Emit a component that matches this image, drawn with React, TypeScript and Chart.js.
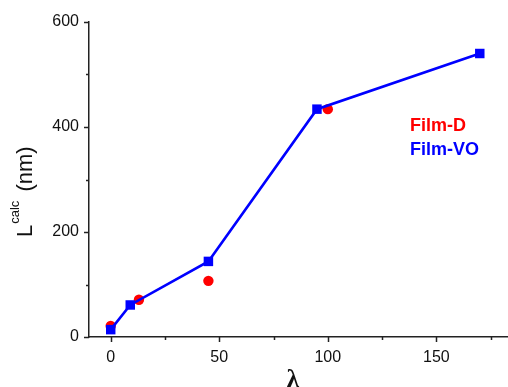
import React, { useEffect, useRef } from "react";
import { Chart, registerables } from "chart.js";

Chart.register(...registerables);

const lambdaVO = [0, 9, 45, 95, 170];
const valuesVO = [14, 61, 144, 434, 540];
const lambdaD = [0, 13, 45, 100];
const valuesD = [21, 71, 107, 434];
const seriesNames = ["Film-D", "Film-VO"];
const seriesColors = ["#ff0000", "#0000ff"];
const xMajorTicks = [0, 50, 100, 150];
const xMinorTicks = [25, 75, 125, 175];
const yMajorTicks = [0, 200, 400, 600];
const yMinorTicks = [100, 300, 500];

const FONT = '"Liberation Sans", Arial, sans-serif';
const AXIS_COLOR = "#222222";
const TEXT_COLOR = "#111111";

const decorPlugin = {
  id: "decor",
  afterDraw(chart: any) {
    const { ctx, chartArea } = chart;
    const xs = chart.scales.x;
    const ys = chart.scales.y;
    ctx.save();
    ctx.strokeStyle = AXIS_COLOR;
    ctx.lineWidth = 1.5;
    const drawX = (vals: number[], len: number) => {
      vals.forEach((v) => {
        const px = Math.round(xs.getPixelForValue(v)) + 0.5;
        ctx.beginPath();
        ctx.moveTo(px, chartArea.bottom);
        ctx.lineTo(px, chartArea.bottom + len);
        ctx.stroke();
      });
    };
    const drawY = (vals: number[], len: number) => {
      vals.forEach((v) => {
        const py = Math.round(ys.getPixelForValue(v)) + 0.5;
        ctx.beginPath();
        ctx.moveTo(chartArea.left, py);
        ctx.lineTo(chartArea.left - len, py);
        ctx.stroke();
      });
    };
    drawX(xMajorTicks, 5);
    drawX(xMinorTicks, 3);
    drawY(yMajorTicks, 5);
    drawY(yMinorTicks, 3);

    // Y axis title: L^calc (nm)
    ctx.fillStyle = TEXT_COLOR;
    ctx.save();
    ctx.translate(32, 237);
    ctx.rotate(-Math.PI / 2);
    ctx.textBaseline = "alphabetic";
    ctx.textAlign = "left";
    ctx.font = `22px ${FONT}`;
    ctx.fillText("L", 0, 0);
    const wL = ctx.measureText("L").width;
    ctx.font = `13px ${FONT}`;
    ctx.fillText("calc", wL + 1, -13);
    const wC = ctx.measureText("calc").width;
    ctx.font = `22px ${FONT}`;
    ctx.fillText(" (nm)", wL + wC + 4, 0);
    ctx.restore();

    // X axis title
    ctx.font = `bold 25px "Liberation Serif", serif`;
    ctx.textAlign = "center";
    ctx.textBaseline = "top";
    ctx.fillText("λ", 293, 368);

    // Legend (text only)
    ctx.font = `bold 18px ${FONT}`;
    ctx.textAlign = "left";
    ctx.textBaseline = "alphabetic";
    seriesNames.forEach((name, i) => {
      ctx.fillStyle = seriesColors[i];
      ctx.fillText(name, 410, 131 + i * 24);
    });
    ctx.restore();
  },
};

export default function App() {
  const ref = useRef<HTMLCanvasElement | null>(null);
  useEffect(() => {
    document.body.style.margin = "0";
    const canvas = ref.current!;
    const chart = new Chart(canvas, {
      type: "scatter",
      data: {
        datasets: [
          {
            label: seriesNames[1],
            data: lambdaVO.map((x, i) => ({ x, y: valuesVO[i] })),
            showLine: true,
            borderColor: seriesColors[1],
            backgroundColor: seriesColors[1],
            borderWidth: 2.6,
            pointStyle: "rect",
            pointRadius: 6.7,
            pointBorderWidth: 0,
            order: 0,
            clip: false,
          },
          {
            label: seriesNames[0],
            data: lambdaD.map((x, i) => ({ x, y: valuesD[i] })),
            showLine: false,
            borderColor: seriesColors[0],
            backgroundColor: seriesColors[0],
            pointStyle: "circle",
            pointRadius: 5.2,
            pointBorderWidth: 0,
            order: 1,
            clip: false,
          },
        ],
      },
      options: {
        animation: false,
        responsive: false,
        maintainAspectRatio: false,
        layout: { autoPadding: false, padding: { top: 22, right: 0, left: 0, bottom: 0 } },
        plugins: {
          legend: { display: false },
          tooltip: { enabled: false },
          title: { display: false },
        },
        scales: {
          x: {
            type: "linear",
            min: -10,
            max: 183,
            grid: { display: false },
            border: { display: true, color: AXIS_COLOR, width: 1.5 },
            afterBuildTicks: (s: any) => {
              s.ticks = xMajorTicks.map((v) => ({ value: v }));
            },
            ticks: {
              padding: 3,
              color: TEXT_COLOR,
              font: { family: FONT, size: 16 },
              maxRotation: 0,
              autoSkip: false,
            },
            afterFit: (s: any) => {
              s.height = 50;
            },
          },
          y: {
            type: "linear",
            min: 0,
            max: 600,
            grid: { display: false },
            border: { display: true, color: AXIS_COLOR, width: 1.5 },
            afterBuildTicks: (s: any) => {
              s.ticks = yMajorTicks.map((v) => ({ value: v }));
            },
            ticks: {
              padding: 2,
              color: TEXT_COLOR,
              font: { family: FONT, size: 16 },
              autoSkip: false,
            },
            afterFit: (s: any) => {
              s.width = 89;
            },
          },
        },
      },
      plugins: [decorPlugin],
    } as any);
    return () => chart.destroy();
  }, []);
  return (
    <div style={{ position: "absolute", left: 0, top: 0, width: 508, height: 387, background: "#fff" }}>
      <canvas ref={ref} width={508} height={387} style={{ width: 508, height: 387, display: "block" }} />
    </div>
  );
}
